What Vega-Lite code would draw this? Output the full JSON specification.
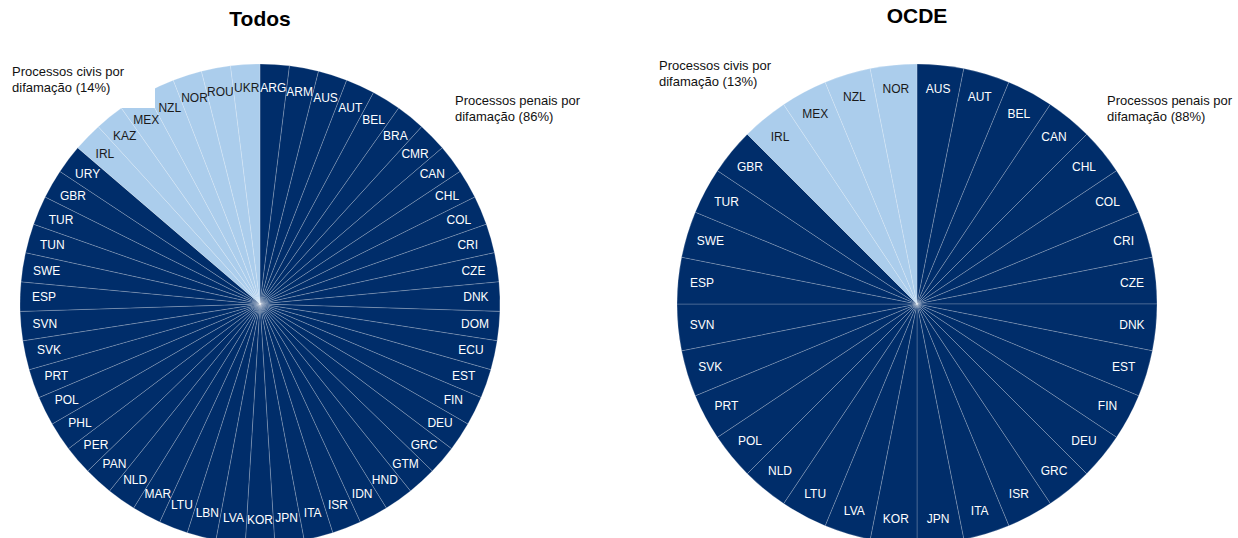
{
  "$schema": "https://vega.github.io/schema/vega-lite/v6.json",
  "padding": {"left": 12, "top": 5, "right": 0, "bottom": 0},
  "bounds": "flush",
  "spacing": 177,
  "config": {
    "view": {"stroke": null},
    "font": "Liberation Sans",
    "title": {"fontSize": 21, "fontWeight": "bold", "color": "#000000", "offset": 33, "font": "Liberation Sans"}
  },
  "datasets": {
    "todos": [
      {"pais": "ARG", "tipo": "Penal", "ordem": 0, "n": 1},
      {"pais": "ARM", "tipo": "Penal", "ordem": 1, "n": 1},
      {"pais": "AUS", "tipo": "Penal", "ordem": 2, "n": 1},
      {"pais": "AUT", "tipo": "Penal", "ordem": 3, "n": 1},
      {"pais": "BEL", "tipo": "Penal", "ordem": 4, "n": 1},
      {"pais": "BRA", "tipo": "Penal", "ordem": 5, "n": 1},
      {"pais": "CMR", "tipo": "Penal", "ordem": 6, "n": 1},
      {"pais": "CAN", "tipo": "Penal", "ordem": 7, "n": 1},
      {"pais": "CHL", "tipo": "Penal", "ordem": 8, "n": 1},
      {"pais": "COL", "tipo": "Penal", "ordem": 9, "n": 1},
      {"pais": "CRI", "tipo": "Penal", "ordem": 10, "n": 1},
      {"pais": "CZE", "tipo": "Penal", "ordem": 11, "n": 1},
      {"pais": "DNK", "tipo": "Penal", "ordem": 12, "n": 1},
      {"pais": "DOM", "tipo": "Penal", "ordem": 13, "n": 1},
      {"pais": "ECU", "tipo": "Penal", "ordem": 14, "n": 1},
      {"pais": "EST", "tipo": "Penal", "ordem": 15, "n": 1},
      {"pais": "FIN", "tipo": "Penal", "ordem": 16, "n": 1},
      {"pais": "DEU", "tipo": "Penal", "ordem": 17, "n": 1},
      {"pais": "GRC", "tipo": "Penal", "ordem": 18, "n": 1},
      {"pais": "GTM", "tipo": "Penal", "ordem": 19, "n": 1},
      {"pais": "HND", "tipo": "Penal", "ordem": 20, "n": 1},
      {"pais": "IDN", "tipo": "Penal", "ordem": 21, "n": 1},
      {"pais": "ISR", "tipo": "Penal", "ordem": 22, "n": 1},
      {"pais": "ITA", "tipo": "Penal", "ordem": 23, "n": 1},
      {"pais": "JPN", "tipo": "Penal", "ordem": 24, "n": 1},
      {"pais": "KOR", "tipo": "Penal", "ordem": 25, "n": 1},
      {"pais": "LVA", "tipo": "Penal", "ordem": 26, "n": 1},
      {"pais": "LBN", "tipo": "Penal", "ordem": 27, "n": 1},
      {"pais": "LTU", "tipo": "Penal", "ordem": 28, "n": 1},
      {"pais": "MAR", "tipo": "Penal", "ordem": 29, "n": 1},
      {"pais": "NLD", "tipo": "Penal", "ordem": 30, "n": 1},
      {"pais": "PAN", "tipo": "Penal", "ordem": 31, "n": 1},
      {"pais": "PER", "tipo": "Penal", "ordem": 32, "n": 1},
      {"pais": "PHL", "tipo": "Penal", "ordem": 33, "n": 1},
      {"pais": "POL", "tipo": "Penal", "ordem": 34, "n": 1},
      {"pais": "PRT", "tipo": "Penal", "ordem": 35, "n": 1},
      {"pais": "SVK", "tipo": "Penal", "ordem": 36, "n": 1},
      {"pais": "SVN", "tipo": "Penal", "ordem": 37, "n": 1},
      {"pais": "ESP", "tipo": "Penal", "ordem": 38, "n": 1},
      {"pais": "SWE", "tipo": "Penal", "ordem": 39, "n": 1},
      {"pais": "TUN", "tipo": "Penal", "ordem": 40, "n": 1},
      {"pais": "TUR", "tipo": "Penal", "ordem": 41, "n": 1},
      {"pais": "GBR", "tipo": "Penal", "ordem": 42, "n": 1},
      {"pais": "URY", "tipo": "Penal", "ordem": 43, "n": 1},
      {"pais": "IRL", "tipo": "Civil", "ordem": 44, "n": 1},
      {"pais": "KAZ", "tipo": "Civil", "ordem": 45, "n": 1},
      {"pais": "MEX", "tipo": "Civil", "ordem": 46, "n": 1},
      {"pais": "NZL", "tipo": "Civil", "ordem": 47, "n": 1},
      {"pais": "NOR", "tipo": "Civil", "ordem": 48, "n": 1},
      {"pais": "ROU", "tipo": "Civil", "ordem": 49, "n": 1},
      {"pais": "UKR", "tipo": "Civil", "ordem": 50, "n": 1}
    ],
    "ocde": [
      {"pais": "AUS", "tipo": "Penal", "ordem": 0, "n": 1},
      {"pais": "AUT", "tipo": "Penal", "ordem": 1, "n": 1},
      {"pais": "BEL", "tipo": "Penal", "ordem": 2, "n": 1},
      {"pais": "CAN", "tipo": "Penal", "ordem": 3, "n": 1},
      {"pais": "CHL", "tipo": "Penal", "ordem": 4, "n": 1},
      {"pais": "COL", "tipo": "Penal", "ordem": 5, "n": 1},
      {"pais": "CRI", "tipo": "Penal", "ordem": 6, "n": 1},
      {"pais": "CZE", "tipo": "Penal", "ordem": 7, "n": 1},
      {"pais": "DNK", "tipo": "Penal", "ordem": 8, "n": 1},
      {"pais": "EST", "tipo": "Penal", "ordem": 9, "n": 1},
      {"pais": "FIN", "tipo": "Penal", "ordem": 10, "n": 1},
      {"pais": "DEU", "tipo": "Penal", "ordem": 11, "n": 1},
      {"pais": "GRC", "tipo": "Penal", "ordem": 12, "n": 1},
      {"pais": "ISR", "tipo": "Penal", "ordem": 13, "n": 1},
      {"pais": "ITA", "tipo": "Penal", "ordem": 14, "n": 1},
      {"pais": "JPN", "tipo": "Penal", "ordem": 15, "n": 1},
      {"pais": "KOR", "tipo": "Penal", "ordem": 16, "n": 1},
      {"pais": "LVA", "tipo": "Penal", "ordem": 17, "n": 1},
      {"pais": "LTU", "tipo": "Penal", "ordem": 18, "n": 1},
      {"pais": "NLD", "tipo": "Penal", "ordem": 19, "n": 1},
      {"pais": "POL", "tipo": "Penal", "ordem": 20, "n": 1},
      {"pais": "PRT", "tipo": "Penal", "ordem": 21, "n": 1},
      {"pais": "SVK", "tipo": "Penal", "ordem": 22, "n": 1},
      {"pais": "SVN", "tipo": "Penal", "ordem": 23, "n": 1},
      {"pais": "ESP", "tipo": "Penal", "ordem": 24, "n": 1},
      {"pais": "SWE", "tipo": "Penal", "ordem": 25, "n": 1},
      {"pais": "TUR", "tipo": "Penal", "ordem": 26, "n": 1},
      {"pais": "GBR", "tipo": "Penal", "ordem": 27, "n": 1},
      {"pais": "IRL", "tipo": "Civil", "ordem": 28, "n": 1},
      {"pais": "MEX", "tipo": "Civil", "ordem": 29, "n": 1},
      {"pais": "NZL", "tipo": "Civil", "ordem": 30, "n": 1},
      {"pais": "NOR", "tipo": "Civil", "ordem": 31, "n": 1}
    ]
  },
  "hconcat": [
    {
      "title": "Todos",
      "width": 480,
      "height": 480,
      "layer": [
        {
          "data": {"name": "todos"},
          "mark": {"type": "arc", "outerRadius": 240, "stroke": "#ffffff", "strokeWidth": 0.5, "strokeOpacity": 0.4},
          "encoding": {
            "theta": {"field": "n", "type": "quantitative", "stack": true},
            "order": {"field": "ordem", "type": "quantitative"},
            "color": {"field": "tipo", "type": "nominal", "scale": {"domain": ["Penal", "Civil"], "range": ["#002d6a", "#abcdec"]}, "legend": null}
          }
        },
        {
          "data": {"values": [{}]},
          "mark": {"type": "rect", "color": "#ffffff"},
          "encoding": {
            "x": {"datum": -0.8, "type": "quantitative", "scale": {"domain": [-1, 1], "nice": false, "zero": false}, "axis": null},
            "x2": {"datum": -0.4375},
            "y": {"datum": 0.817, "type": "quantitative", "scale": {"domain": [-1, 1], "nice": false, "zero": false}, "axis": null},
            "y2": {"datum": 1.0}
          }
        },
        {
          "data": {"name": "todos"},
          "mark": {"type": "text", "radius": 216, "fontSize": 12, "font": "Liberation Sans"},
          "encoding": {
            "theta": {"field": "n", "type": "quantitative", "stack": true},
            "order": {"field": "ordem", "type": "quantitative"},
            "text": {"field": "pais", "type": "nominal"},
            "color": {"condition": {"test": "datum.tipo === 'Civil'", "value": "#1a1a1a"}, "value": "#ffffff"}
          }
        },
        {
          "data": {"values": [{}]},
          "mark": {"type": "text", "text": ["Processos penais por", "difamação (86%)"], "align": "left", "baseline": "top", "fontSize": 13, "lineHeight": 16, "font": "Liberation Sans", "color": "#111111"},
          "encoding": {
            "x": {"datum": 0.8125, "type": "quantitative", "scale": {"domain": [-1, 1], "nice": false, "zero": false}, "axis": null},
            "y": {"datum": 0.871, "type": "quantitative", "scale": {"domain": [-1, 1], "nice": false, "zero": false}, "axis": null}
          }
        },
        {
          "data": {"values": [{}]},
          "mark": {"type": "text", "text": ["Processos civis por", "difamação (14%)"], "align": "left", "baseline": "top", "fontSize": 13, "lineHeight": 16, "font": "Liberation Sans", "color": "#111111"},
          "encoding": {
            "x": {"datum": -1.033, "type": "quantitative", "scale": {"domain": [-1, 1], "nice": false, "zero": false}, "axis": null},
            "y": {"datum": 0.992, "type": "quantitative", "scale": {"domain": [-1, 1], "nice": false, "zero": false}, "axis": null}
          }
        }
      ]
    },
    {
      "title": "OCDE",
      "width": 480,
      "height": 480,
      "layer": [
        {
          "data": {"name": "ocde"},
          "mark": {"type": "arc", "outerRadius": 240, "stroke": "#ffffff", "strokeWidth": 0.5, "strokeOpacity": 0.4},
          "encoding": {
            "theta": {"field": "n", "type": "quantitative", "stack": true},
            "order": {"field": "ordem", "type": "quantitative"},
            "color": {"field": "tipo", "type": "nominal", "scale": {"domain": ["Penal", "Civil"], "range": ["#002d6a", "#abcdec"]}, "legend": null}
          }
        },
        {
          "data": {"name": "ocde"},
          "mark": {"type": "text", "radius": 216, "fontSize": 12, "font": "Liberation Sans"},
          "encoding": {
            "theta": {"field": "n", "type": "quantitative", "stack": true},
            "order": {"field": "ordem", "type": "quantitative"},
            "text": {"field": "pais", "type": "nominal"},
            "color": {"condition": {"test": "datum.tipo === 'Civil'", "value": "#1a1a1a"}, "value": "#ffffff"}
          }
        },
        {
          "data": {"values": [{}]},
          "mark": {"type": "text", "text": ["Processos penais por", "difamação (88%)"], "align": "left", "baseline": "top", "fontSize": 13, "lineHeight": 16, "font": "Liberation Sans", "color": "#111111"},
          "encoding": {
            "x": {"datum": 0.792, "type": "quantitative", "scale": {"domain": [-1, 1], "nice": false, "zero": false}, "axis": null},
            "y": {"datum": 0.871, "type": "quantitative", "scale": {"domain": [-1, 1], "nice": false, "zero": false}, "axis": null}
          }
        },
        {
          "data": {"values": [{}]},
          "mark": {"type": "text", "text": ["Processos civis por", "difamação (13%)"], "align": "left", "baseline": "top", "fontSize": 13, "lineHeight": 16, "font": "Liberation Sans", "color": "#111111"},
          "encoding": {
            "x": {"datum": -1.075, "type": "quantitative", "scale": {"domain": [-1, 1], "nice": false, "zero": false}, "axis": null},
            "y": {"datum": 1.017, "type": "quantitative", "scale": {"domain": [-1, 1], "nice": false, "zero": false}, "axis": null}
          }
        }
      ]
    }
  ]
}
